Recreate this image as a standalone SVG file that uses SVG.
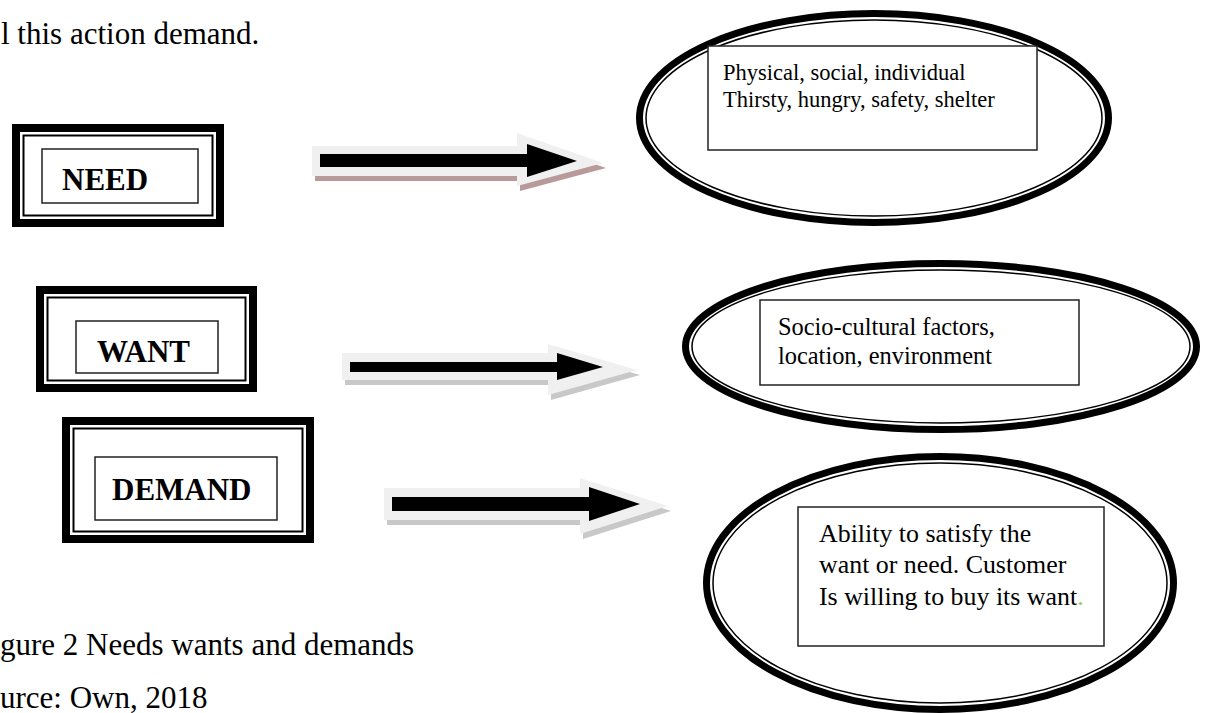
<svg xmlns="http://www.w3.org/2000/svg" width="1218" height="713" viewBox="0 0 1218 713">
<style>
.txt{font-family:"Liberation Serif","Times New Roman",serif;fill:#000}
.bold{font-family:"Liberation Serif","Times New Roman",serif;font-weight:bold;fill:#000;font-size:31px}
.thick{fill:none;stroke:#000;stroke-width:8}
.thin{fill:none;stroke:#000;stroke-width:2}
.ibox{fill:#fff;stroke:#222;stroke-width:1.5}
.eth{fill:none;stroke:#000;stroke-width:7}
.etn{fill:none;stroke:#000;stroke-width:1.5}
.aout{fill:#f0f0f0}
.ablk{fill:#000}
</style>
<rect width="1218" height="713" fill="#fff"/>
<text class="txt" x="1" y="44" font-size="31">l this action demand.</text>

<g id="need">
<rect class="thick" x="16" y="128" width="204" height="95"/>
<rect class="thin" x="23.5" y="135.5" width="189" height="80"/>
<rect class="ibox" x="42" y="149" width="156" height="54"/>
<text class="bold" x="62" y="190">NEED</text>
</g>

<g id="want">
<rect class="thick" x="40" y="290" width="213" height="98"/>
<rect class="thin" x="47.5" y="297.5" width="198" height="83"/>
<rect class="ibox" x="76" y="321" width="142" height="52"/>
<text class="bold" x="97" y="362">WANT</text>
</g>

<g id="demand">
<rect class="thick" x="66" y="421" width="244" height="118"/>
<rect class="thin" x="73.5" y="428.5" width="229" height="103"/>
<rect class="ibox" x="95" y="457" width="182" height="63"/>
<text class="bold" x="112" y="500" font-size="32">DEMAND</text>
</g>

<g id="need-desc">
<ellipse class="eth" cx="874" cy="118" rx="234.5" ry="104.5"/>
<ellipse class="etn" cx="874" cy="118" rx="228" ry="98"/>
<rect class="ibox" x="708" y="46" width="329" height="104"/>
<text class="txt" font-size="22.5"><tspan x="723" y="80">Physical, social, individual</tspan><tspan x="723" y="107">Thirsty, hungry, safety, shelter</tspan></text>
</g>

<g id="want-desc">
<ellipse class="eth" cx="941" cy="346.5" rx="255.5" ry="83"/>
<ellipse class="etn" cx="941" cy="346.5" rx="249" ry="76.5"/>
<rect class="ibox" x="760" y="300" width="319" height="85"/>
<text class="txt" font-size="24.4"><tspan x="778" y="335">Socio-cultural factors,</tspan><tspan x="778" y="364">location, environment</tspan></text>
</g>

<g id="demand-desc">
<ellipse class="eth" cx="940" cy="583" rx="233.5" ry="126.5"/>
<ellipse class="etn" cx="940" cy="583" rx="227" ry="120"/>
<rect class="ibox" x="798" y="507" width="306" height="139"/>
<text class="txt" font-size="25.9"><tspan x="819" y="542">Ability to satisfy the</tspan><tspan x="819" y="573">want or need. Customer</tspan><tspan x="819" y="605">Is willing to buy its want</tspan><tspan fill="#92d050">.</tspan></text>
</g>

<g id="connectors">
<g id="arrow-need">
<polygon fill="#b89a9a" points="315,151 520,151 520,138 606,168 520,191 520,181 315,181"/>
<polygon class="aout" points="312,146 517,146 517,133 603,163 517,186 517,176 312,176"/>
<polygon class="ablk" points="320,154 527,154 527,144 577,161 527,177 527,167 320,167"/>
</g>
<g id="arrow-want">
<polygon fill="#c8c8c8" points="345,358 551,358 551,349 640,375 551,400 551,385 345,385"/>
<polygon class="aout" points="342,353 548,353 548,344 637,370 548,395 548,380 342,380"/>
<polygon class="ablk" points="350,362 557,362 557,353 603,367 557,380 557,372 350,372"/>
</g>
<g id="arrow-demand">
<polygon fill="#c8c8c8" points="387,493 583,493 583,483 671,511 583,539 583,525 387,525"/>
<polygon class="aout" points="384,488 580,488 580,478 668,506 580,534 580,520 384,520"/>
<polygon class="ablk" points="392,497 589,497 589,487 640,504 589,521 589,511 392,511"/>
</g>
</g>

<text class="txt" x="0" y="655" font-size="31">gure 2 Needs wants and demands</text>
<text class="txt" x="0" y="708" font-size="31">urce: Own, 2018</text>
</svg>
